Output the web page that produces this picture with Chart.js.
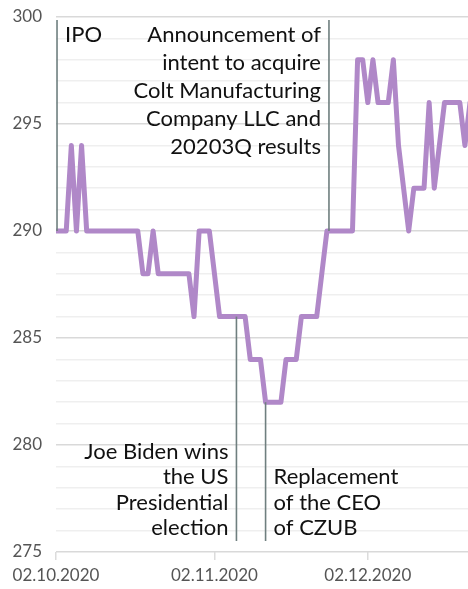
<!DOCTYPE html>
<html>
<head>
<meta charset="utf-8">
<script src="https://cdn.jsdelivr.net/npm/chart.js@4/dist/chart.umd.min.js"></script>
<style>
  html, body { margin: 0; padding: 0; background: #fff; }
  #wrap { width: 468px; height: 589px; }
</style>
</head>
<body>
<div id="wrap"><canvas id="priceChart"></canvas></div>
<script>
// daily closing price, one value per calendar day starting 02.10.2020
const prices = [
  290, 290, 290, 294, 290, 294, 290, 290, 290, 290,
  290, 290, 290, 290, 290, 290, 290, 288, 288, 290,
  288, 288, 288, 288, 288, 288, 288, 286, 290, 290,
  290, 288, 286, 286, 286, 286, 286, 286, 284, 284,
  284, 282, 282, 282, 282, 284, 284, 284, 286, 286,
  286, 286, 288, 290, 290, 290, 290, 290, 290, 298,
  298, 296, 298, 296, 296, 296, 298, 294, 292, 290,
  292, 292, 292, 296, 292, 294, 296, 296, 296, 296,
  294, 296
];

// x tick positions (days since 02.10.2020) and their labels
const tickDays = [0, 31, 61];
const tickLabels = ['02.10.2020', '02.11.2020', '02.12.2020'];

// events: day, price where the marker meets the line, and text lines
const eventDays = [0.2, 53.4, 35.3, 41.0];
const eventPrices = [290, 290, 286, 282];
const eventTexts = [
  ['IPO'],
  ['Announcement of', 'intent to acquire', 'Colt Manufacturing', 'Company LLC and', '20203Q results'],
  ['Joe Biden wins', 'the US', 'Presidential', 'election'],
  ['Replacement', 'of the CEO', 'of CZUB']
];
const eventPlace = ['top-left', 'top-right', 'bottom-right', 'bottom-left'];

const FONT = 'Lato, "Open Sans", sans-serif';

// draws the event lines and labels
const eventPlugin = {
  id: 'events',
  afterDatasetsDraw(chart) {
    const { ctx, chartArea, scales } = chart;
    ctx.save();
    ctx.font = '22px ' + FONT;
    ctx.textBaseline = 'middle';
    eventDays.forEach((d, i) => {
      const x = scales.x.getPixelForValue(d);
      const yv = scales.y.getPixelForValue(eventPrices[i]);
      const top = eventPlace[i].startsWith('top');
      ctx.strokeStyle = '#6f7f7f';
      ctx.lineWidth = 1.6;
      ctx.beginPath();
      if (top) {
        ctx.moveTo(x, chartArea.top + 3);
        ctx.lineTo(x, yv);
      } else {
        ctx.moveTo(x, yv);
        ctx.lineTo(x, chartArea.bottom - 11);
      }
      ctx.stroke();

      const right = eventPlace[i].endsWith('right');
      ctx.fillStyle = '#111';
      ctx.textAlign = right ? 'right' : 'left';
      const tx = right ? x - 8 : x + 8;
      const lines = eventTexts[i];
      if (top) {
        lines.forEach((t, k) => ctx.fillText(t, tx, chartArea.top + 18 + k * 28));
      } else {
        const n = lines.length;
        lines.forEach((t, k) => ctx.fillText(t, tx, chartArea.bottom - 24 - (n - 1 - k) * 25.5));
      }
    });
    ctx.restore();
  }
};

const ctx = document.getElementById('priceChart').getContext('2d');

new Chart(ctx, {
  type: 'line',
  data: {
    datasets: [{
      data: prices.map((p, i) => ({ x: i, y: p })),
      borderColor: '#b088c8',
      borderWidth: 5,
      borderJoinStyle: 'round',
      borderCapStyle: 'round',
      pointRadius: 0,
      tension: 0,
      fill: false
    }]
  },
  options: {
    responsive: true,
    maintainAspectRatio: false,
    animation: false,
    layout: { padding: { top: 17, right: 0, left: 0, bottom: 0 } },
    plugins: {
      legend: { display: false },
      tooltip: { enabled: false }
    },
    scales: {
      x: {
        type: 'linear',
        min: 0,
        max: 80.6,
        afterBuildTicks: function (scale) {
          scale.ticks = tickDays.map(v => ({ value: v }));
        },
        afterFit: function (scale) { scale.height = 37; },
        ticks: {
          callback: function (value) {
            return tickLabels[tickDays.indexOf(value)];
          },
          color: '#555',
          font: { family: FONT, size: 17 },
          padding: 5,
          maxRotation: 0
        },
        grid: { drawOnChartArea: false, drawTicks: true, tickLength: 8, color: '#dcdcdc', lineWidth: 1.5 },
        border: { display: false }
      },
      y: {
        min: 275,
        max: 300,
        afterFit: function (scale) {
          scale.width = 56;
          scale.paddingTop = 0;
          scale.paddingBottom = 0;
        },
        ticks: {
          stepSize: 1,
          autoSkip: false,
          callback: function (value) {
            return value % 5 === 0 ? value : '';
          },
          color: '#555',
          font: { family: FONT, size: 17 },
          padding: 14
        },
        grid: {
          drawTicks: false,
          lineWidth: 1.5,
          color: function (c) {
            return c.tick && c.tick.value % 5 === 0 ? '#d9d9d9' : '#efefef';
          }
        },
        border: { display: false }
      }
    }
  },
  plugins: [eventPlugin]
});
</script>
</body>
</html>
